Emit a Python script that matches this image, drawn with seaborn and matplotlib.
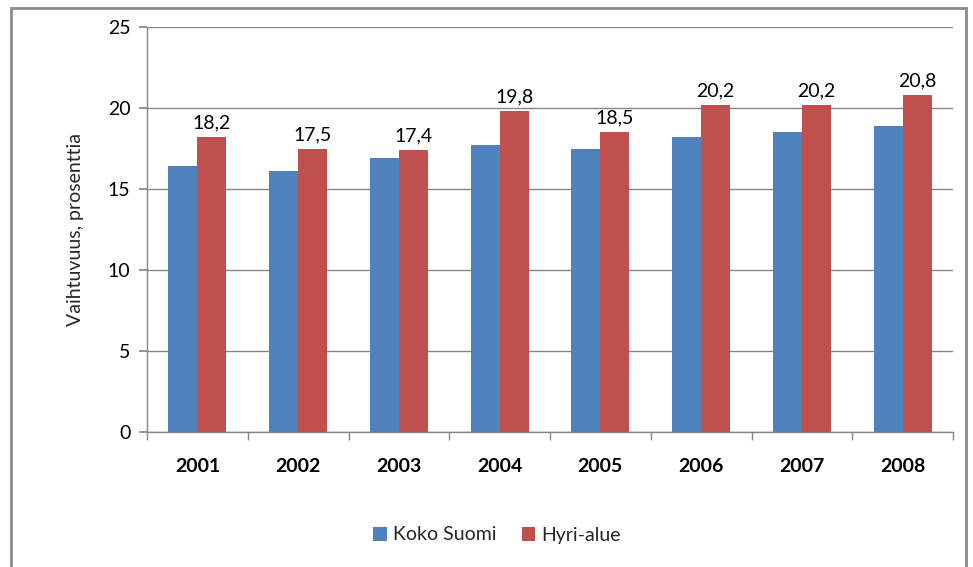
import matplotlib
matplotlib.use("Agg")
import matplotlib.pyplot as plt
import seaborn as sns
import pandas as pd
import numpy as np
from matplotlib.patches import Rectangle
from matplotlib.ticker import FixedLocator

years = ["2001", "2002", "2003", "2004", "2005", "2006", "2007", "2008"]
koko_suomi = [16.4, 16.1, 16.9, 17.7, 17.5, 18.2, 18.5, 18.9]
hyri_alue = [18.2, 17.5, 17.4, 19.8, 18.5, 20.2, 20.2, 20.8]
series_names = ["Koko Suomi", "Hyri-alue"]
y_ticks = [0, 5, 10, 15, 20, 25]

df = pd.DataFrame({
    "year": years * 2,
    "value": koko_suomi + hyri_alue,
    "series": [series_names[0]] * len(years) + [series_names[1]] * len(years),
})

sns.set_theme(style="white")
plt.rcParams["font.family"] = ["Lato", "DejaVu Sans"]

fig = plt.figure(figsize=(9.73, 5.67), dpi=100)
ax = fig.add_axes([147 / 973, 1 - 432 / 567, (953 - 147) / 973, (432 - 27) / 567])

blue = "#4F81BD"
red = "#C0504D"
grid_c = "#868686"

sns.barplot(data=df, x="year", y="value", hue="series", palette=[blue, red],
            width=0.575, saturation=1, gap=0, ax=ax, legend=True, zorder=3,
            linewidth=0, edgecolor="none")

ax.set_ylim(0, 25)
ax.set_xlim(-0.5, len(years) - 0.5)
ax.set_yticks(y_ticks)
ax.yaxis.grid(True, color=grid_c, linewidth=1.0, zorder=0)
ax.set_axisbelow(True)
for s in ["top", "right"]:
    ax.spines[s].set_visible(False)
for s in ["left", "bottom"]:
    ax.spines[s].set_color(grid_c)
    ax.spines[s].set_linewidth(1.0)

ax.tick_params(axis="y", which="major", length=6, color=grid_c, direction="out",
               left=True, labelsize=14, pad=6, labelcolor="black")
ax.tick_params(axis="x", which="major", length=0, labelsize=14, pad=19, labelcolor="black")
ax.xaxis.set_minor_locator(FixedLocator(np.arange(-0.5, len(years), 1.0)))
ax.tick_params(axis="x", which="minor", length=6, color=grid_c, direction="out", bottom=True)
for lbl in ax.get_xticklabels():
    lbl.set_fontweight("bold")

ax.set_xlabel("")
ax.set_ylabel("Vaihtuvuus, prosenttia", fontsize=14, labelpad=17)

# data labels on the Hyri-alue bars
red_container = ax.containers[1]
ax.bar_label(red_container, labels=[f"{v:.1f}".replace(".", ",") for v in hyri_alue],
             padding=4, fontsize=14, color="black")

handles, labels = ax.get_legend_handles_labels()
ax.get_legend().remove()
fig.legend(handles, labels, loc="center", bbox_to_anchor=(497 / 973, 1 - 535 / 567),
           ncol=2, frameon=False, fontsize=14, handlelength=0.7, handleheight=0.7,
           handletextpad=0.3, columnspacing=1.3)

fig.patches.append(Rectangle((11 / 973, -0.05), (966 - 11) / 973, 1 - 8 / 567 + 0.05,
                             transform=fig.transFigure, fill=False,
                             edgecolor="#8C8C8C", linewidth=2.0, clip_on=False))

fig.savefig("out.png", dpi=100)
